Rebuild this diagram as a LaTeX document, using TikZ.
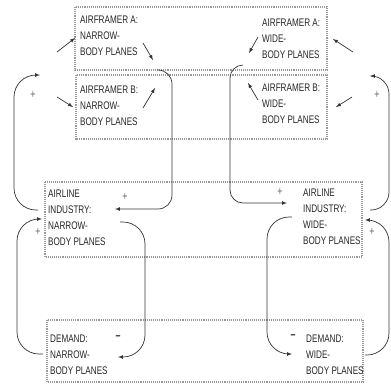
\documentclass[tikz,border=0pt]{standalone}
\usepackage{fontspec}
\setmainfont{Liberation Sans}[FakeStretch=0.74]
\usetikzlibrary{positioning,arrows.meta,arrows}
\tikzset{
lbl/.style={
  anchor=north west,
  inner sep=0pt,
  align=left,
  text=black!85,
  font=\fontsize{11}{16}\selectfont
  },
grp/.style={
  draw=black!40,
  densely dotted,
  line width=1.1pt
  },
link/.style={
  ->,
  draw=black!80,
  line width=0.7pt,
  rounded corners=22pt
  },
sgn/.style={
  inner sep=0pt,
  text=black!60,
  font=\fontsize{12}{12}\selectfont
  }
}

\begin{document}
\begin{tikzpicture}[>=latex,x=1pt,y=-1pt]
            \useasboundingbox (0,0) rectangle (391,384);
            % frames
            \draw[grp] (75,7) rectangle (327,70);
            \draw[grp] (76,75) rectangle (327,139);
            \draw[grp] (45,182) rectangle (362,257);
            \draw[grp] (47,320) rectangle (363,382);
            % texts
            \node[lbl] (nA) at (80,16) {AIRFRAMER A:\\NARROW-\\BODY PLANES};
            \node[lbl] (wA) at (262,19) {AIRFRAMER A:\\WIDE-\\BODY PLANES};
            \node[lbl] (nB) at (80,86) {AIRFRAMER B:\\NARROW-\\BODY PLANES};
            \node[lbl] (wB) at (262,84) {AIRFRAMER B:\\WIDE-\\BODY PLANES};
            \node[lbl] (iN) at (48,190) {AIRLINE\\INDUSTRY:\\NARROW-\\BODY PLANES};
            \node[lbl] (iW) at (303,189) {AIRLINE\\INDUSTRY:\\WIDE-\\BODY PLANES};
            \node[lbl] (dN) at (50,335) {DEMAND:\\NARROW-\\BODY PLANES};
            \node[lbl] (dW) at (306,335) {DEMAND:\\WIDE-\\BODY PLANES};
            % loop ends
            \coordinate (nAfIn) at (40,75);
            \coordinate (wAfIn) at (370,76);
            \coordinate (nAfOut) at (157,70);
            \coordinate (wAfOut) at (243,65);
            \coordinate (iNup) at (38,210);
            \coordinate (iNlo) at (42,219);
            \coordinate (iNin) at (115,209);
            \coordinate (iNout) at (120,222);
            \coordinate (iWin) at (287,203);
            \coordinate (iWout) at (292,217);
            \coordinate (iWup) at (370,210);
            \coordinate (iWlo) at (365,220);
            \coordinate (dNout) at (43,354);
            \coordinate (dNin) at (118,357);
            \coordinate (dWin) at (292,354);
            \coordinate (dWout) at (365,355);
            % loops
            \draw[link] (iNup) -| (14,75) -- (nAfIn);
            \draw[link] (dNout) -| (17,219) -- (iNlo);
            \draw[link,rounded corners=14pt] (nAfOut) -| (172,209) -- (iNin);
            \draw[link] (iNout) -| (145,357) -- (dNin);
            \draw[link,rounded corners=13pt] (wAfOut) -| (230,203) -- (iWin);
            \draw[link] (iWout) -| (267,354) -- (dWin);
            \draw[link] (dWout) -| (389,220) -- (iWlo);
            \draw[link,rounded corners=18pt] (iWup) -| (389,76) -- (wAfIn);
            % short arrows
            \foreach \a/\b in {{57,52}/{75,38},{57,97}/{73,107},{143,43}/{153,60},{143,108}/{155,88},
                               {353,52}/{333,39},{352,97}/{336,107},{258,37}/{249,53},{258,100}/{248,83}}
                \draw[->,draw=black!80,line width=0.7pt] (\a) -- (\b);
            % polarities
            \foreach \p/\s [count=\i] in {{33,95}/+,{125,197}/+,{38,232}/+,{280,192}/+,
                                          {372,232}/+,{377,95}/+}
                \node[sgn] (s\i) at (\p) {\s};
            \node[sgn,text=black!85] (m1) at (118,338) {\textbf{–}};
            \node[sgn,text=black!85] (m2) at (293,337) {\textbf{–}};
        \end{tikzpicture}
\end{document}
